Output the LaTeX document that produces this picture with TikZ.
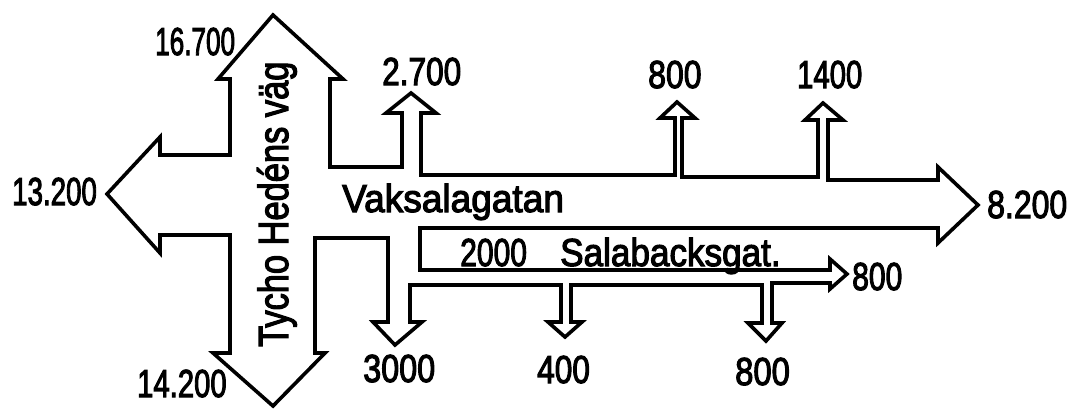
\documentclass[tikz,border=0pt]{standalone}
\usepackage{fontspec}
\setmainfont{Liberation Sans}
\newfontfamily\heavy{Liberation Sans}[FakeBold=3]
\newcommand{\sx}[2]{\scalebox{#1}[1]{#2}}
\tikzset{
  flow/.style={line width=3.6pt, line join=miter, miter limit=10},
  lbl/.style={anchor=base west, inner sep=0pt, font=\heavy\fontsize{39}{39}\selectfont},
  biglbl/.style={anchor=base west, inner sep=0pt, rotate=90, font=\heavy\fontsize{42}{42}\selectfont}
}
\begin{document}
\begin{tikzpicture}[x=1pt,y=-1pt]
\useasboundingbox (0,0) rectangle (1073,408);
% flow outline
\draw[flow] (273,15) -- (343,79) -- (330,79) -- (330,167) -- (402,167) -- (402,113)
  -- (386,113) -- (411,93) -- (436,113) -- (421,113) -- (421,175)
  -- (675,175) -- (675,118) -- (660,118) -- (677,102) -- (695,118) -- (682,118) -- (682,177)
  -- (818,177) -- (818,120) -- (805,120) -- (823,103) -- (843,120) -- (828,120) -- (828,180)
  -- (938,180) -- (938,167) -- (978,205) -- (938,243) -- (938,228)
  -- (420,228) -- (420,270) -- (830,270) -- (830,259) -- (847,274) -- (830,289) -- (830,283)
  -- (772,283) -- (772,323) -- (782,323) -- (766,341) -- (748,323) -- (762,323) -- (762,285)
  -- (571,285) -- (571,322) -- (582,322) -- (565,337) -- (548,322) -- (561,322) -- (561,285)
  -- (410,285) -- (410,322) -- (422,322) -- (395,345) -- (373,322) -- (388,322) -- (388,238)
  -- (315,238) -- (315,353) -- (325,353) -- (273,406) -- (213,353) -- (230,353)
  -- (230,235) -- (160,235) -- (160,253) -- (107,194) -- (160,137) -- (160,155)
  -- (230,155) -- (230,79) -- (218,79) -- cycle;
% labels
\node[lbl] (n16700) at (155,55) {\sx{0.67}{16.700}};
\node[lbl] (n2700) at (382,85) {\sx{0.81}{2.700}};
\node[lbl] (n800a) at (648,88) {\sx{0.82}{800}};
\node[lbl] (n1400) at (797,88) {\sx{0.75}{1400}};
\node[lbl] (n13200) at (12,205) {\sx{0.71}{13.200}};
\node[lbl] (n8200) at (987,218) {\sx{0.82}{8.200}};
\node[lbl] (vaks) at (342,212) {\sx{0.95}{Vaksalagatan}};
\node[lbl] (n2000) at (460,266) {\sx{0.77}{2000}};
\node[lbl] (sala) at (560,266) {\sx{0.90}{Salabacksgat.}};
\node[lbl] (n800r) at (852,290) {\sx{0.77}{800}};
\node[lbl] (n3000) at (363,382) {\sx{0.83}{3000}};
\node[lbl] (n400) at (537,383) {\sx{0.81}{400}};
\node[lbl] (n800b) at (735,385) {\sx{0.84}{800}};
\node[lbl] (n14200) at (137,397) {\sx{0.75}{14.200}};
\node[biglbl] (tycho) at (288,347) {\sx{0.82}{Tycho Hedéns väg}};
\end{tikzpicture}
\end{document}
